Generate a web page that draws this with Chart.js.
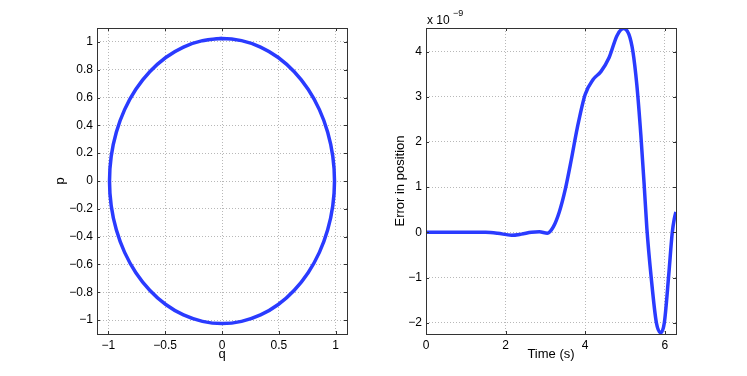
<!DOCTYPE html>
<html>
<head>
<meta charset="utf-8">
<script src="https://cdn.jsdelivr.net/npm/chart.js@4/dist/chart.umd.min.js"></script>
<style>
  body { margin: 0; background: #fff; }
  canvas { position: absolute; top: 0; }
</style>
</head>
<body>
<canvas id="phase" width="372" height="376" style="left:0"></canvas>
<canvas id="err" width="375" height="376" style="left:372px"></canvas>
<script>
// phase portrait (q, p), read around the loop starting at the top
const qVals = [0, -0.172, -0.339, -0.495, -0.636, -0.758, -0.857, -0.930, -0.975, -0.99,
    -0.975, -0.930, -0.857, -0.758, -0.636, -0.495, -0.339, -0.172, 0,
    0.172, 0.339, 0.495, 0.636, 0.758, 0.857, 0.930, 0.975, 0.99,
    0.975, 0.930, 0.857, 0.758, 0.636, 0.495, 0.339, 0.172, 0, -0.172];
const pVals = [1.025, 1.009, 0.963, 0.888, 0.785, 0.659, 0.513, 0.351, 0.178, 0,
    -0.178, -0.351, -0.513, -0.659, -0.785, -0.888, -0.963, -1.009, -1.025,
    -1.009, -0.963, -0.888, -0.785, -0.659, -0.513, -0.351, -0.178, 0,
    0.178, 0.351, 0.513, 0.659, 0.785, 0.888, 0.963, 1.009, 1.025, 1.009];
const qTicks = [-1, -0.5, 0, 0.5, 1];
const pTicks = [-1, -0.8, -0.6, -0.4, -0.2, 0, 0.2, 0.4, 0.6, 0.8, 1];

// position error (x 1e-9) against time
const timeVals = [0, 0.5, 1.0, 1.5, 1.8, 2.15, 2.4, 2.65, 2.85, 3.05, 3.2, 3.35, 3.5, 3.65, 3.8, 4.0,
    4.2, 4.4, 4.6, 4.8, 4.96, 5.1, 5.2, 5.3, 5.4, 5.48, 5.55, 5.66, 5.79, 5.9, 5.99, 6.1, 6.19, 6.24, 6.28];
const errVals = [0, 0, 0, 0, -0.02, -0.065, -0.04, 0.0, 0.01, -0.02, 0.12, 0.45, 0.95, 1.6, 2.3, 3.05,
    3.38, 3.56, 3.86, 4.35, 4.51, 4.38, 4.0, 3.25, 2.15, 1.1, 0.1, -1.0, -2.0, -2.22, -2.0, -0.95, 0, 0.3, 0.45];
const timeTicks = [0, 2, 4, 6];
const errTicks = [-2, -1, 0, 1, 2, 3, 4];

const BLUE = '#2a3bff';
const AXIS = '#333';
const FONT = 'Liberation Sans, Arial, sans-serif';

const fmt = v => String(v).replace('-', '\u2212');

// box + inward ticks + axis texts, matlab style
const matlabAxes = {
    id: 'matlabAxes',
    afterDraw(chart, args, opts) {
        const ctx = chart.ctx;
        const a = chart.chartArea;
        const xs = chart.scales.x, ys = chart.scales.y;
        ctx.save();
        ctx.strokeStyle = AXIS;
        ctx.lineWidth = 1;
        ctx.strokeRect(Math.round(a.left) + 0.5, Math.round(a.top) + 0.5,
            Math.round(a.right - a.left), Math.round(a.bottom - a.top));
        ctx.beginPath();
        xs.ticks.forEach(t => {
            const x = Math.round(xs.getPixelForValue(t.value)) + 0.5;
            ctx.moveTo(x, a.bottom); ctx.lineTo(x, a.bottom - 3);
            ctx.moveTo(x, a.top); ctx.lineTo(x, a.top + 3);
        });
        ys.ticks.forEach(t => {
            const y = Math.round(ys.getPixelForValue(t.value)) + 0.5;
            ctx.moveTo(a.left, y); ctx.lineTo(a.left + 3, y);
            ctx.moveTo(a.right, y); ctx.lineTo(a.right - 3, y);
        });
        ctx.stroke();

        ctx.fillStyle = '#000';
        ctx.font = '13px ' + FONT;
        ctx.textAlign = 'center';
        ctx.textBaseline = 'alphabetic';
        ctx.fillText(opts.xTitle, (a.left + a.right) / 2, 358);
        ctx.save();
        ctx.translate(opts.yTitleX, (a.top + a.bottom) / 2);
        ctx.rotate(-Math.PI / 2);
        ctx.textBaseline = 'middle';
        ctx.fillText(opts.yTitle, 0, 0);
        ctx.restore();
        if (opts.exponent) {
            ctx.textAlign = 'left';
            ctx.font = '12px ' + FONT;
            ctx.fillText('x 10', a.left + 1, 24);
            ctx.font = '9px ' + FONT;
            ctx.fillText('\u22129', a.left + 27, 16);
        }
        ctx.restore();
    }
};

function makeOptions(xMin, xMax, yMin, yMax, xTicks, yTicks, yWidth, padRight, texts) {
    const grid = { color: '#b8b8b8', lineWidth: 1, drawTicks: false };
    const border = { display: false, dash: [1, 2] };
    return {
        responsive: false,
        animation: false,
        layout: { padding: { left: 0, top: 28, right: padRight, bottom: 0 } },
        plugins: { legend: { display: false }, tooltip: { enabled: false }, matlabAxes: texts },
        elements: { point: { radius: 0 } },
        scales: {
            x: {
                type: 'linear', min: xMin, max: xMax,
                afterBuildTicks: s => { s.ticks = xTicks.map(v => ({ value: v })); },
                afterFit: s => { s.height = 42; },
                grid: grid,
                border: border,
                ticks: { padding: 4, color: '#000', font: { family: FONT, size: 12 }, callback: v => fmt(v), maxRotation: 0 }
            },
            y: {
                type: 'linear', min: yMin, max: yMax,
                afterBuildTicks: s => { s.ticks = yTicks.map(v => ({ value: v })); },
                afterFit: s => { s.width = yWidth; },
                grid: grid,
                border: border,
                ticks: { padding: 4, color: '#000', font: { family: FONT, size: 12 }, callback: v => fmt(v) }
            }
        }
    };
}

new Chart(document.getElementById('phase'), {
    type: 'scatter',
    data: {
        datasets: [{
            data: qVals.map((q, i) => ({ x: q, y: pVals[i] })),
            showLine: true,
            borderColor: BLUE,
            borderWidth: 3.5,
            tension: 0.4,
            fill: false
        }]
    },
    options: makeOptions(-1.1, 1.1, -1.1, 1.1, qTicks, pTicks, 97, 25,
        { xTitle: 'q', yTitle: 'p', yTitleX: 60 }),
    plugins: [matlabAxes]
});

new Chart(document.getElementById('err'), {
    type: 'scatter',
    data: {
        datasets: [{
            data: timeVals.map((t, i) => ({ x: t, y: errVals[i] })),
            showLine: true,
            borderColor: BLUE,
            borderWidth: 3.5,
            cubicInterpolationMode: 'monotone',
            fill: false
        }]
    },
    options: makeOptions(0, 6.2832, -2.25, 4.52, timeTicks, errTicks, 54, 71,
        { xTitle: 'Time (s)', yTitle: 'Error in position', yTitleX: 28, exponent: true }),
    plugins: [matlabAxes]
});
</script>
</body>
</html>
